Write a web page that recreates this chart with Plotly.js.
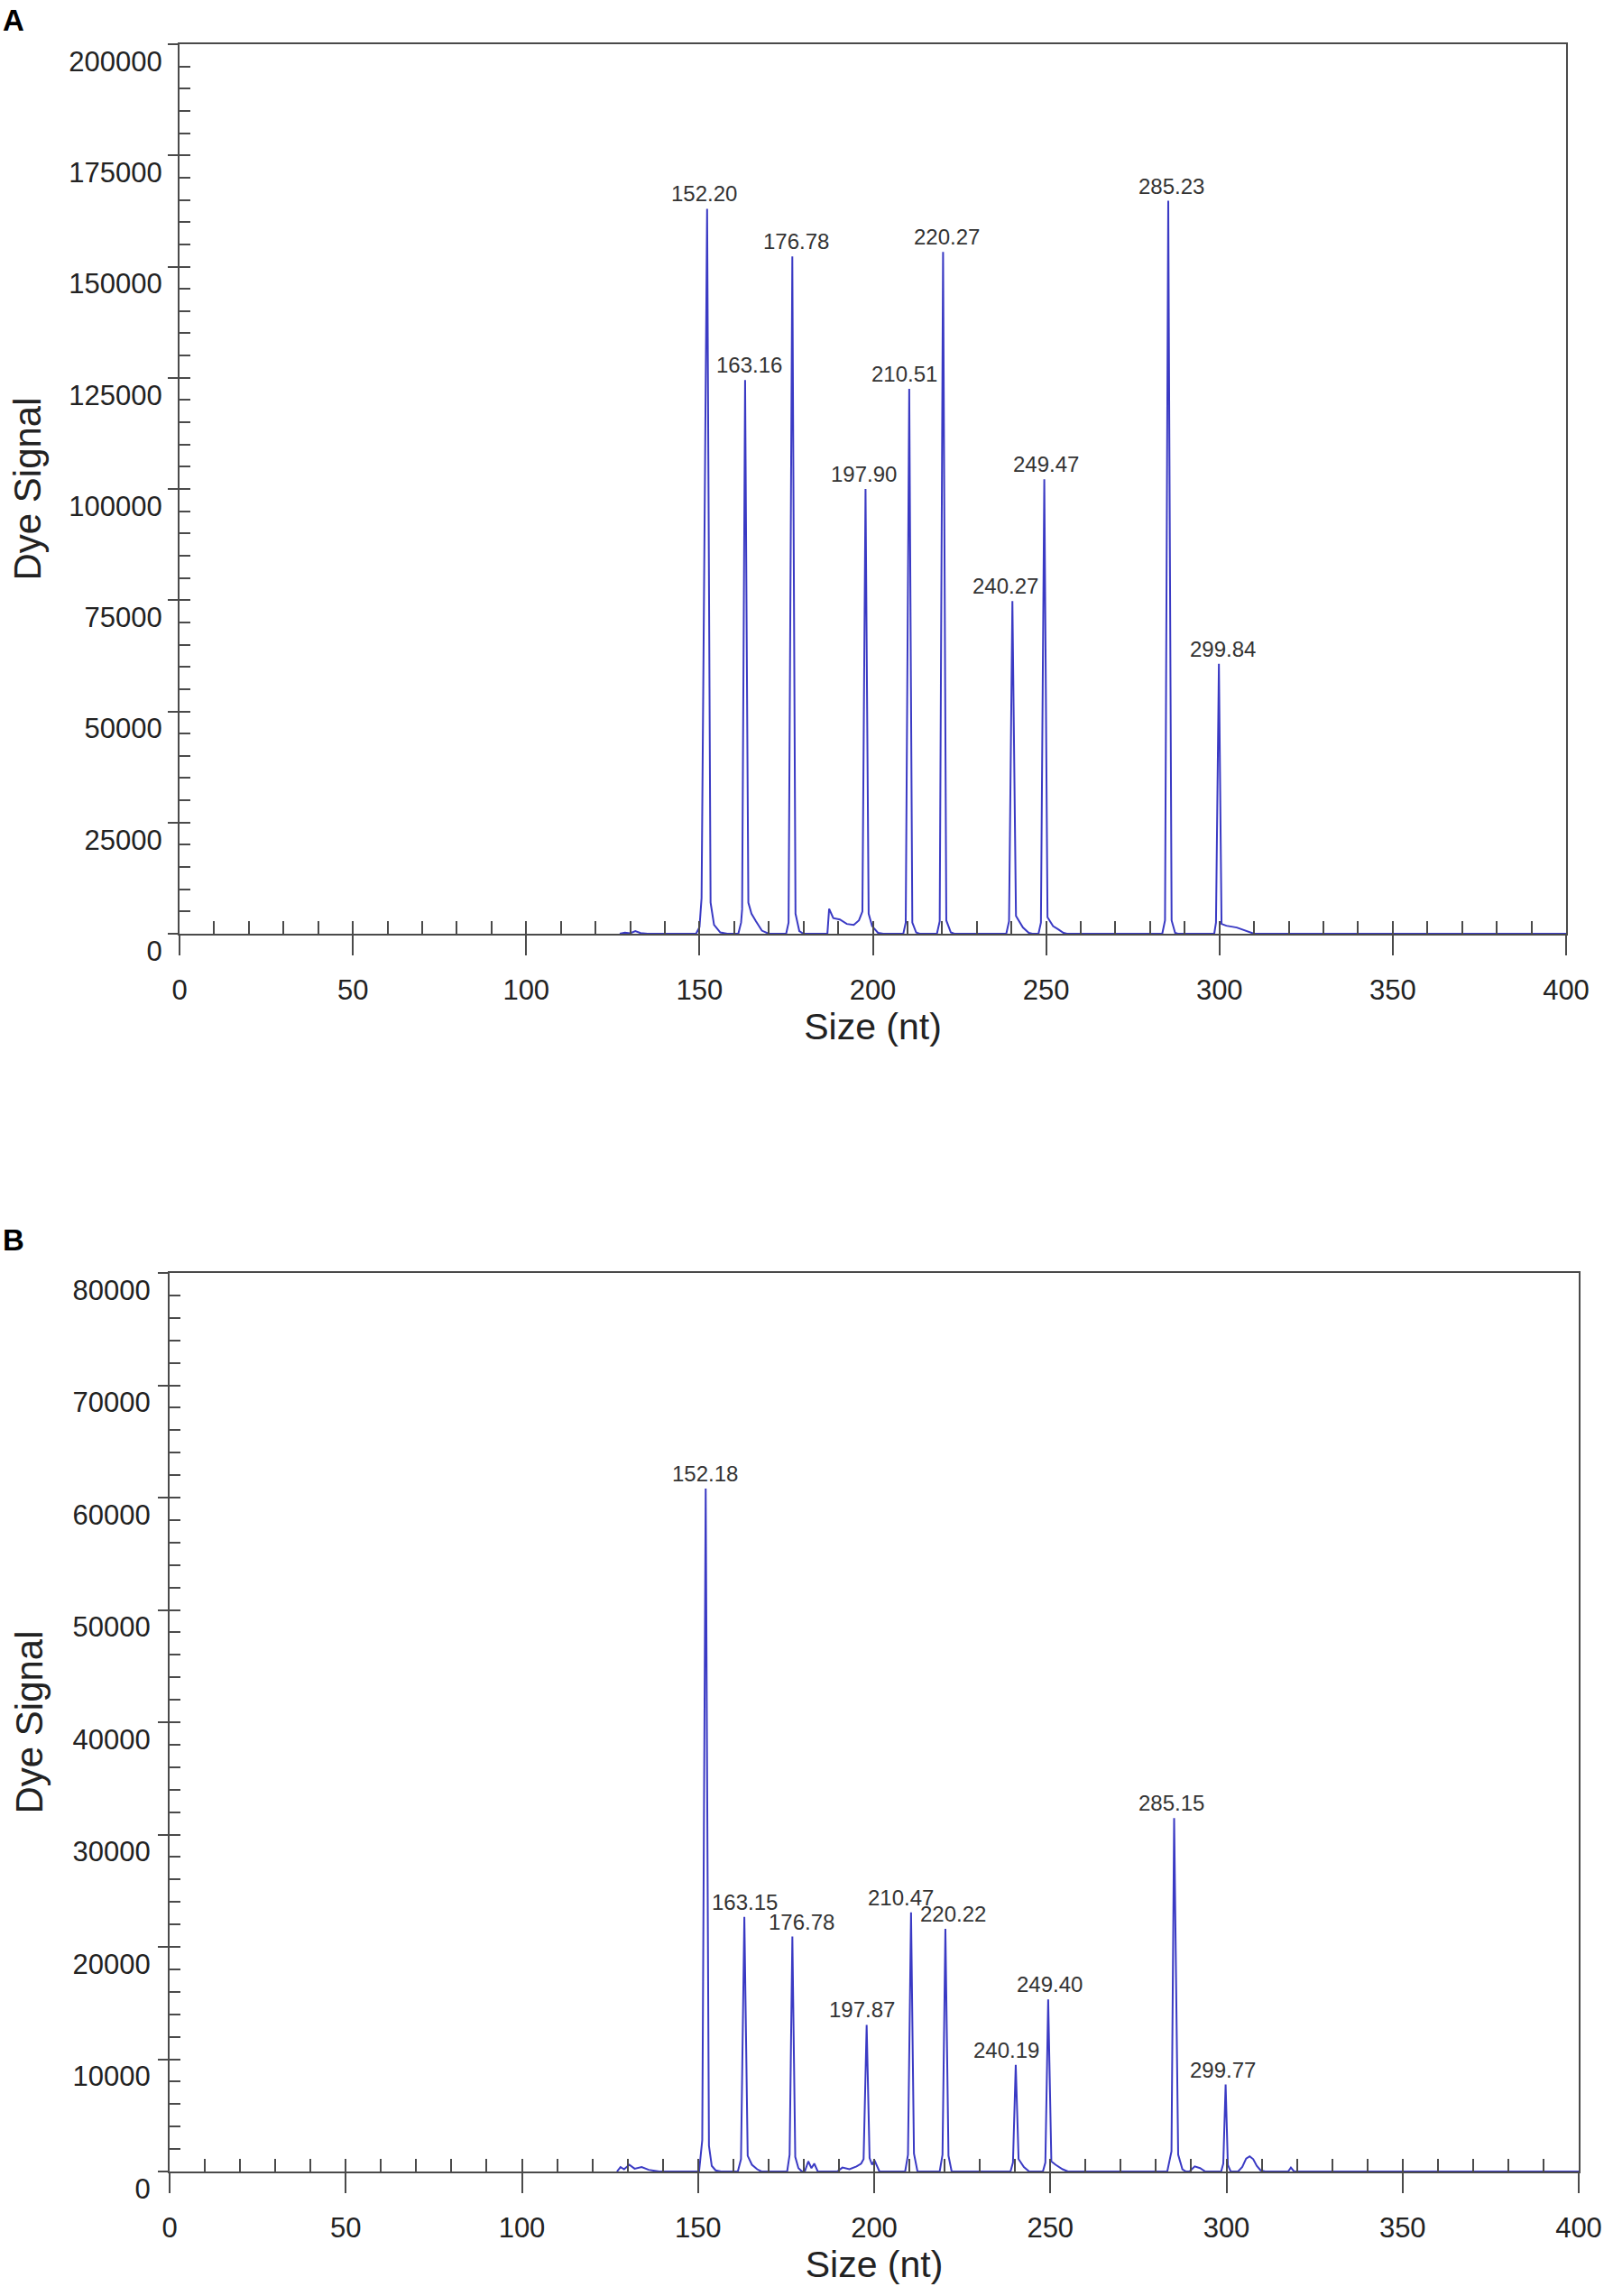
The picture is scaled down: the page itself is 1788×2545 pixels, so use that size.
<!DOCTYPE html>
<html>
<head>
<meta charset="utf-8">
<script src="https://cdn.plot.ly/plotly-3.0.1.min.js"></script>
<style>
  html, body { margin:0; padding:0; background:#fff; }
  #chart { width:1788px; height:2545px; }
</style>
</head>
<body>
<div id="chart"></div>
<script>
// ---- panel A trace (size in nt, dye signal) ----
const sizeA = [
  127.0, 128.5, 130.0, 131.5, 133.0, 135.0,
  149.0, 150.0, 150.6, 152.2, 153.2, 154.2, 156.0, 158.0,
  161.2, 162.0, 162.3, 163.16, 164.1, 165.0, 166.3, 168.0, 170.0,
  175.0, 175.7, 176.78, 177.7, 178.8, 180.0,
  186.9, 187.4, 188.6, 190.5, 192.5, 194.5, 196.0, 197.0, 197.9, 198.8, 199.8, 201.5, 203.0,
  208.8, 209.5, 210.51, 211.4, 212.5, 213.5,
  218.5, 219.3, 220.27, 221.2, 222.5, 223.5,
  238.5, 239.3, 240.27, 241.3, 243.3, 245.0, 246.0,
  247.8, 248.5, 249.47, 250.4, 252.0, 253.5, 255.0, 256.0,
  283.5, 284.3, 285.23, 286.2, 287.2, 288.0,
  298.5, 299.0, 299.84, 300.6, 302.0, 305.0, 307.5, 310.0,
  400.0
];
const signalA = [
  0, 250, 100, 600, 150, 0,
  0, 1500, 8000, 163000, 7000, 2000, 300, 0,
  0, 2500, 5500, 124500, 7000, 4500, 2800, 700, 0,
  0, 2500, 152300, 4500, 600, 0,
  0, 5600, 3500, 3200, 2200, 2000, 3000, 5000, 100000, 4500, 1700, 200, 0,
  0, 2500, 122500, 2500, 300, 0,
  0, 2800, 153300, 3000, 300, 0,
  0, 2800, 74800, 4000, 1400, 200, 0,
  0, 2500, 102200, 3700, 1700, 1000, 200, 0,
  0, 3000, 164800, 3000, 200, 0,
  0, 2500, 60700, 2200, 1800, 1400, 700, 0,
  0
];
const peakSizeA   = [152.2, 163.16, 176.78, 197.9, 210.51, 220.27, 240.27, 249.47, 285.23, 299.84];
const peakHeightA = [163000, 124500, 152300, 100000, 122500, 153300, 74800, 102200, 164800, 60700];
const peakLabelA  = ['152.20', '163.16', '176.78', '197.90', '210.51', '220.27', '240.27', '249.47', '285.23', '299.84'];

// ---- panel B trace ----
const sizeB = [
  127.0, 128.0, 129.0, 130.5, 132.0, 134.0, 136.0, 139.0,
  150.3, 151.2, 152.18, 153.1, 153.9, 155.0, 156.5,
  161.3, 162.2, 163.15, 164.1, 165.3, 166.8, 168.0,
  175.3, 176.0, 176.78, 177.6, 178.5, 179.5, 180.3, 181.3, 182.2, 183.0, 184.0,
  189.5, 191.0, 193.0, 195.0, 196.3, 197.0, 197.87, 198.7, 199.4, 200.1, 201.5,
  208.8, 209.6, 210.47, 211.3, 212.3,
  218.6, 219.4, 220.22, 221.1, 222.0,
  238.7, 239.4, 240.19, 241.0, 242.5, 244.0,
  247.9, 248.6, 249.4, 250.3, 251.5, 253.5, 255.0,
  283.2, 284.4, 285.15, 286.3, 287.5, 288.5,
  289.5, 291.0, 292.5, 294.0,
  298.5, 299.1, 299.77, 300.4, 301.2,
  303.3, 304.5, 305.6, 306.6, 307.6, 308.6, 309.7, 311.0,
  317.5, 318.3, 319.2,
  400.0
];
const signalB = [
  0, 400, 200, 600, 250, 400, 150, 0,
  0, 2800, 60800, 2300, 500, 100, 0,
  0, 1100, 22660, 1400, 600, 200, 0,
  0, 1500, 20920, 1300, 300, 0, 0, 900, 300, 700, 0,
  0, 350, 200, 450, 700, 1100, 13060, 1200, 600, 1000, 0,
  0, 1500, 23080, 1600, 0,
  0, 1500, 21600, 1400, 0,
  0, 800, 9490, 1100, 400, 0,
  0, 800, 15310, 900, 600, 200, 0,
  0, 1800, 31460, 1500, 200, 0,
  0, 450, 300, 0,
  0, 700, 7740, 600, 0,
  0, 400, 1150, 1350, 1100, 500, 100, 0,
  0, 350, 0,
  0
];
const peakSizeB   = [152.18, 163.15, 176.78, 197.87, 210.47, 220.22, 240.19, 249.4, 285.15, 299.77];
const peakHeightB = [60800, 22660, 20920, 13060, 23080, 21600, 9490, 15310, 31460, 7740];
const peakLabelB  = ['152.18', '163.15', '176.78', '197.87', '210.47', '220.22', '240.19', '249.40', '285.15', '299.77'];

// ---- ticks ----
const xMajor   = [0, 50, 100, 150, 200, 250, 300, 350, 400];
const xMinor   = [0, 10, 20, 30, 40, 50, 60, 70, 80, 90, 100, 110, 120, 130, 140, 150, 160, 170, 180, 190, 200,
                  210, 220, 230, 240, 250, 260, 270, 280, 290, 300, 310, 320, 330, 340, 350, 360, 370, 380, 390, 400];
const yMajorA  = [0, 25000, 50000, 75000, 100000, 125000, 150000, 175000, 200000];
const yMajorB  = [0, 10000, 20000, 30000, 40000, 50000, 60000, 70000, 80000];

// label nudges in px (labels that sit off-centre in the picture)
const nudgeA = [-3, 5, 4, -2, -5, 4, -8, 2, 3, 4];
const nudgeB = [-1, 0, 10, -5, -11, 9, -10, 2, -3, -3];

const W = 1788, H = 2545;
const FONT = 'Liberation Sans, Arial, Helvetica, sans-serif';
const INK = '#222';
const AXC = '#4a4a4a';
const TRACE = '#3a3ac4';

function px(v, total){ return v / total; }

function peakNotes(xs, ys, labels, nudge, xref, yref){
  return xs.map((x, i)=>({
    x: x, y: ys[i], xref: xref, yref: yref,
    text: labels[i], showarrow: false,
    xanchor: 'center', yanchor: 'bottom', yshift: 1, xshift: nudge[i],
    font: { family: FONT, size: 24, color: '#333' }
  }));
}

function mainX(domain, anchor){
  return {
    domain: domain, anchor: anchor, range: [0, 400],
    tickmode: 'array', tickvals: xMajor, ticks: 'outside', ticklen: 22, tickwidth: 2, tickcolor: AXC,
    ticklabelstandoff: 12,
    showline: true, linecolor: AXC, linewidth: 2, mirror: true,
    showgrid: false, zeroline: false, fixedrange: true,
    tickfont: { family: FONT, size: 31, color: INK },
    title: { text: 'Size (nt)', font: { family: FONT, size: 41, color: INK }, standoff: 6 }
  };
}
function innerX(over, anchor){
  return {
    overlaying: over, anchor: anchor, range: [0, 400],
    tickmode: 'array', tickvals: xMinor, ticks: 'inside', ticklen: 14, tickwidth: 2, tickcolor: AXC,
    showticklabels: false, showline: false, showgrid: false, zeroline: false, fixedrange: true
  };
}
function mainY(domain, anchor, top, majors, standoff, titleGap){
  return {
    domain: domain, anchor: anchor, range: [0, top],
    tickmode: 'array', tickvals: majors, tickformat: 'd', ticks: 'outside', ticklen: 11, tickwidth: 2, tickcolor: AXC,
    ticklabelshift: 19, ticklabelstandoff: standoff,
    showline: true, linecolor: AXC, linewidth: 2, mirror: true,
    showgrid: false, zeroline: false, fixedrange: true,
    tickfont: { family: FONT, size: 31, color: INK },
    title: { text: 'Dye Signal', font: { family: FONT, size: 42, color: INK }, standoff: titleGap }
  };
}
function innerY(over, anchor, top, step){
  return {
    overlaying: over, anchor: anchor, range: [0, top],
    tickmode: 'linear', tick0: 0, dtick: step, ticks: 'inside', ticklen: 12, tickwidth: 2, tickcolor: AXC,
    showticklabels: false, showline: false, showgrid: false, zeroline: false, fixedrange: true
  };
}

const blank = (xa, ya)=>({ x: [], y: [], xaxis: xa, yaxis: ya, type: 'scatter', mode: 'lines', hoverinfo: 'skip', showlegend: false });

const data = [
  { x: sizeA, y: signalA, xaxis: 'x', yaxis: 'y', type: 'scatter', mode: 'lines',
    line: { color: TRACE, width: 2 }, hoverinfo: 'skip', showlegend: false },
  { x: sizeB, y: signalB, xaxis: 'x2', yaxis: 'y2', type: 'scatter', mode: 'lines',
    line: { color: TRACE, width: 2 }, hoverinfo: 'skip', showlegend: false },
  blank('x3', 'y'), blank('x', 'y3'), blank('x4', 'y2'), blank('x2', 'y4')
];

const domAx = [px(199, W), px(1736, W)];
const domAy = [1 - px(1035, H), 1 - px(49, H)];
const domBx = [px(188, W), px(1750, W)];
const domBy = [1 - px(2407, H), 1 - px(1411, H)];

const panelLetters = [
  { text: '<b>A</b>', x: px(1, W), y: 1 - px(2, H) },
  { text: '<b>B</b>', x: px(1, W), y: 1 - px(1354, H) }
].map(a=>Object.assign(a, {
  xref: 'paper', yref: 'paper', xanchor: 'left', yanchor: 'top', showarrow: false,
  font: { family: FONT, size: 33, color: '#000' }
}));

const layout = {
  width: W, height: H,
  margin: { l: 0, r: 0, t: 0, b: 0 },
  paper_bgcolor: '#fff', plot_bgcolor: '#fff',
  font: { family: FONT, color: INK },
  showlegend: false,
  xaxis:  mainX(domAx, 'y'),
  yaxis:  mainY(domAy, 'x', 200000, yMajorA, 0, 18),
  xaxis3: innerX('x', 'y'),
  yaxis3: innerY('y', 'x', 200000, 5000),
  xaxis2: mainX(domBx, 'y2'),
  yaxis2: mainY(domBy, 'x2', 80000, yMajorB, 2, 20),
  xaxis4: innerX('x2', 'y2'),
  yaxis4: innerY('y2', 'x2', 80000, 2000),
  annotations: []
    .concat(peakNotes(peakSizeA, peakHeightA, peakLabelA, nudgeA, 'x', 'y'))
    .concat(peakNotes(peakSizeB, peakHeightB, peakLabelB, nudgeB, 'x2', 'y2'))
    .concat(panelLetters)
};

Plotly.newPlot('chart', data, layout, { staticPlot: true, displayModeBar: false });
</script>
</body>
</html>
